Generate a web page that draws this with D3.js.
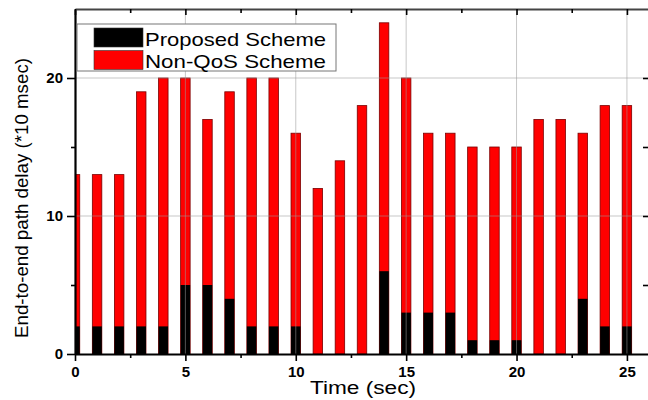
<!DOCTYPE html>
<html>
<head>
<meta charset="utf-8">
<script src="https://cdn.jsdelivr.net/npm/d3@7"></script>
<style>
  html, body { margin: 0; padding: 0; background: #fff; }
  svg { display: block; }
  text { font-family: Arial, "Liberation Sans", sans-serif; }
</style>
</head>
<body>
<div id="chart"></div>
<script>
// Time instants (sec)
const times = [0, 1, 2, 3, 4, 5, 6, 7, 8, 9, 10, 11, 12, 13, 14, 15, 16, 17, 18, 19, 20, 21, 22, 23, 24, 25];
// End-to-end path delay (*10 msec)
const nonQosDelay  = [13, 13, 13, 19, 20, 20, 17, 19, 20, 20, 16, 12, 14, 18, 24, 20, 16, 16, 15, 15, 15, 17, 17, 16, 18, 18];
const proposedDelay = [2, 2, 2, 2, 2, 5, 5, 4, 2, 2, 2, 0, 0, 0, 6, 3, 3, 3, 1, 1, 1, 0, 0, 4, 2, 2];
const seriesNames = ["Proposed Scheme", "Non-QoS Scheme"];
const xTicks = [0, 5, 10, 15, 20, 25];
const xMinorTicks = [2.5, 7.5, 12.5, 17.5, 22.5];
const yTicks = [0, 10, 20];
const yMinorTicks = [5, 15];

const W = 648, H = 400;
const svg = d3.select("#chart").append("svg").attr("width", W).attr("height", H);

const x = d3.scaleLinear().domain([0, 26]).range([75, 649]);
const y = d3.scaleLinear().domain([0, 25]).range([354, 9]);
const barW = x(0.43) - x(0);

svg.append("defs").append("clipPath").attr("id", "plotClip")
  .append("rect").attr("x", x(0)).attr("y", y(25))
  .attr("width", x(26) - x(0)).attr("height", y(0) - y(25));

// Bars: Non-QoS (red) behind, Proposed (black) in front
const bars = svg.append("g").attr("clip-path", "url(#plotClip)");
bars.selectAll("rect.nonqos").data(times).enter().append("rect")
  .attr("class", "nonqos")
  .attr("x", (t) => x(t) - barW / 2)
  .attr("y", (t, i) => y(nonQosDelay[i]))
  .attr("width", barW)
  .attr("height", (t, i) => y(0) - y(nonQosDelay[i]))
  .attr("fill", "#ff0000")
  .attr("stroke", "#7a0000")
  .attr("stroke-width", 0.8);
bars.selectAll("rect.proposed").data(times).enter().append("rect")
  .attr("class", "proposed")
  .attr("x", (t) => x(t) - barW / 2)
  .attr("y", (t, i) => y(proposedDelay[i]))
  .attr("width", barW)
  .attr("height", (t, i) => y(0) - y(proposedDelay[i]))
  .attr("fill", "#000");

// Grid lines at major ticks
const grid = svg.append("g").attr("stroke", "#999").attr("stroke-opacity", 0.55).attr("stroke-width", 1);
grid.selectAll("line.gx").data(xTicks.filter(d => d > 0)).enter().append("line")
  .attr("x1", d => x(d)).attr("x2", d => x(d)).attr("y1", y(0)).attr("y2", y(25));
grid.selectAll("line.gy").data(yTicks.filter(d => d > 0)).enter().append("line")
  .attr("x1", x(0)).attr("x2", x(26)).attr("y1", d => y(d)).attr("y2", d => y(d));

// Axes
function styleAxis(g, width) {
  g.selectAll("path.domain").attr("stroke", "#000").attr("stroke-width", width);
  g.selectAll(".tick line").attr("stroke", "#000").attr("stroke-width", 1.6);
  g.selectAll(".tick text").attr("font-size", 15).attr("font-weight", "bold").attr("fill", "#000")
    .attr("font-family", 'Arial, "Liberation Sans", sans-serif');
}

const xAxis = svg.append("g").attr("transform", `translate(0,${y(0)})`)
  .call(d3.axisBottom(x).tickValues(xTicks).tickSize(7).tickPadding(5).tickSizeOuter(0));
styleAxis(xAxis, 2);
const xMinor = svg.append("g").attr("transform", `translate(0,${y(0)})`)
  .call(d3.axisBottom(x).tickValues(xMinorTicks).tickSize(4).tickFormat("").tickSizeOuter(0));
xMinor.select("path.domain").remove();
styleAxis(xMinor, 2);

const yAxis = svg.append("g").attr("transform", `translate(${x(0)},0)`)
  .call(d3.axisLeft(y).tickValues(yTicks).tickSize(8).tickPadding(4).tickSizeOuter(0));
styleAxis(yAxis, 2.2);
const yMinor = svg.append("g").attr("transform", `translate(${x(0)},0)`)
  .call(d3.axisLeft(y).tickValues(yMinorTicks).tickSize(4).tickFormat("").tickSizeOuter(0));
yMinor.select("path.domain").remove();
styleAxis(yMinor, 2);

// Top and right frame axes with inward ticks
const topAxis = svg.append("g").attr("transform", `translate(0,${y(25)})`)
  .call(d3.axisBottom(x).tickValues(xTicks).tickSize(6).tickFormat("").tickSizeOuter(0));
styleAxis(topAxis, 2.2);
topAxis.select("path.domain").attr("stroke", "#444");
const topMinor = svg.append("g").attr("transform", `translate(0,${y(25)})`)
  .call(d3.axisBottom(x).tickValues(xMinorTicks).tickSize(4).tickFormat("").tickSizeOuter(0));
topMinor.select("path.domain").remove();
styleAxis(topMinor, 2);

const rightAxis = svg.append("g").attr("transform", `translate(${x(26)},0)`)
  .call(d3.axisLeft(y).tickValues([5, 10, 15, 20]).tickSize(6).tickFormat("").tickSizeOuter(0));
styleAxis(rightAxis, 2);

// Axis titles
svg.append("text")
  .attr("x", 363).attr("y", 394)
  .attr("text-anchor", "middle")
  .attr("font-size", 18)
  .attr("textLength", 106).attr("lengthAdjust", "spacingAndGlyphs")
  .text("Time (sec)");
svg.append("text")
  .attr("transform", `translate(28,198) rotate(-90)`)
  .attr("text-anchor", "middle")
  .attr("font-size", 18.5)
  .attr("textLength", 280).attr("lengthAdjust", "spacingAndGlyphs")
  .text("End-to-end path delay (*10 msec)");

// Legend
const legend = svg.append("g");
legend.append("rect")
  .attr("x", 77).attr("y", 24).attr("width", 259).attr("height", 47)
  .attr("fill", "#fff").attr("stroke", "#777").attr("stroke-width", 1);
const legendColors = ["#000", "#ff0000"];
seriesNames.forEach((name, i) => {
  legend.append("rect")
    .attr("x", 94).attr("y", 28 + i * 22.5).attr("width", 49).attr("height", 19)
    .attr("fill", legendColors[i]).attr("stroke", "#333").attr("stroke-width", 0.6);
  legend.append("text")
    .attr("x", 145).attr("y", 45.5 + i * 22.5)
    .attr("font-size", 19)
    .attr("textLength", 181).attr("lengthAdjust", "spacingAndGlyphs")
    .text(name);
});
</script>
</body>
</html>
